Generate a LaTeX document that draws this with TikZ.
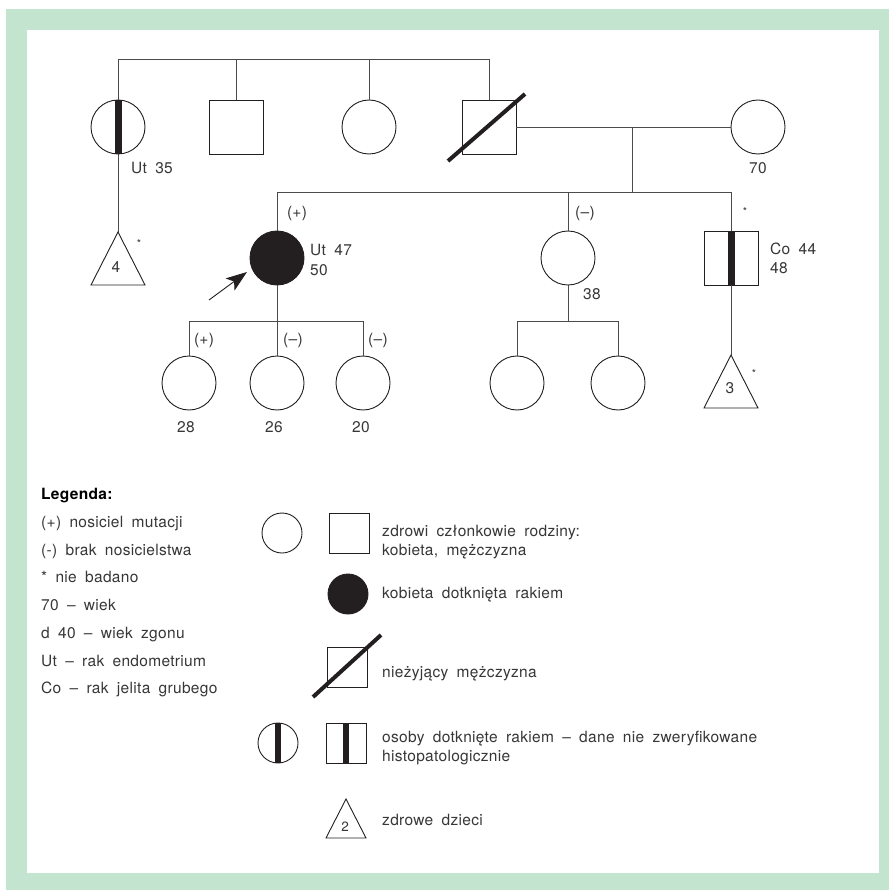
\documentclass[tikz,border=0pt]{standalone}
\usepackage{fontspec}
\setmainfont{TeX Gyre Heros}[LetterSpace=2,WordSpace=1.8]
\usetikzlibrary{arrows.meta,calc}
\definecolor{frameg}{RGB}{195,228,207}
\definecolor{txt}{RGB}{55,55,55}
\definecolor{ln}{RGB}{75,75,75}
\definecolor{dk}{RGB}{35,31,32}
\begin{document}
\begin{tikzpicture}[x=1pt,y=-1pt,
  fem/.style={circle,draw=dk,line width=0.9pt,minimum size=54pt,inner sep=0pt},
  mal/.style={rectangle,draw=dk,line width=0.9pt,minimum size=54pt,inner sep=0pt},
  lfem/.style={fem,minimum size=40pt},
  lmal/.style={mal,minimum size=40pt},
  con/.style={draw=ln,line width=0.9pt},
  tri/.style={draw=dk,line width=0.9pt},
  slash/.style={draw=dk,line width=4pt},
  lbl/.style={text=txt,inner sep=0pt,text height=11pt,text depth=0pt,font=\fontsize{15.5}{18}\selectfont},
  lgd/.style={lbl,anchor=west},
  star/.style={text=txt,inner sep=0pt,font=\fontsize{11}{12}\selectfont}]
% frame
\useasboundingbox (0,0) rectangle (889,890);
\fill[frameg] (6,9) rectangle (889,890);
\fill[white] (27,30) rectangle (879,873);

% generation I
\node[fem] (g1a) at (118,127) {};
\node[mal] (g1b) at (236,127) {};
\node[fem] (g1c) at (369,127) {};
\node[mal] (g1d) at (489,127) {};
\node[fem] (g1e) at (758,127) {};
\fill[dk] ($(g1a.north)+(-3.5,0)$) rectangle ($(g1a.south)+(3.5,0)$);
\draw[slash] ($(g1d.center)+(-41,34)$) -- ($(g1d.center)+(36,-33)$);
\coordinate (top) at (118,59);
\draw[con] (g1a.north) -- (g1a.north |- top) -- (g1d.north |- top) -- (g1d.north);
\draw[con] (g1b.north) -- (g1b.north |- top);
\draw[con] (g1c.north) -- (g1c.north |- top);
\draw[con] (g1d.east) -- (g1e.west);
\coordinate (m1) at (632,127);
\coordinate (s2) at (632,192);
\draw[con] (m1) -- (s2);
\node[lbl,anchor=west] (l35) at (131,168) {Ut 35};
\node[lbl] (l70) at (758,168) {70};

% triangle under g1a
\coordinate (t1) at (118,232);
\draw[con] (g1a.south) -- (t1);
\draw[tri] (t1) -- ++(27,53) -- ++(-54,0) -- cycle;
\node[lbl] (t1n) at (116,267) {4};
\node[star] (t1s) at (139,243) {*};

% generation II
\node[fem,fill=dk] (p) at (277,258) {};
\node[fem] (g2b) at (568,258) {};
\node[mal] (g2c) at (731,258) {};
\fill[dk] ($(g2c.north)+(-3.5,0)$) rectangle ($(g2c.south)+(3.5,0)$);
\draw[con] (p.north) -- (p.north |- s2) -- (g2c.north |- s2) -- (g2c.north);
\draw[con] (g2b.north) -- (g2b.north |- s2);
\node[lbl] (pp) at (297,212) {(+)};
\node[lbl,anchor=west] (pu) at (310,250) {Ut 47};
\node[lbl,anchor=west] (pa) at (310,270) {50};
\node[lbl] (bm) at (585,212) {(–)};
\node[lbl] (ba) at (592,294) {38};
\node[star] (cs) at (745,211) {*};
\node[lbl,anchor=west] (cc) at (770,249) {Co 44};
\node[lbl,anchor=west] (ca) at (770,268) {48};
\coordinate (arrT) at (209,300);
\coordinate (arrH) at (247,272);
\draw[dk,line width=0.9pt,-{Stealth[length=21pt,width=15pt,inset=5pt]}] (arrT) -- (arrH);

% triangle under g2c
\coordinate (t2) at (731,355);
\draw[con] (g2c.south) -- (t2);
\draw[tri] (t2) -- ++(27,53) -- ++(-54,0) -- cycle;
\node[lbl] (t2n) at (730,388) {3};
\node[star] (t2s) at (754,373) {*};

% generation III
\coordinate (s3a) at (277,321);
\node[fem] (g3a) at (189,383) {};
\node[fem] (g3b) at (277,383) {};
\node[fem] (g3c) at (363,383) {};
\draw[con] (p.south) -- (s3a);
\draw[con] (g3a.north) -- (g3a.north |- s3a) -- (g3c.north |- s3a) -- (g3c.north);
\draw[con] (g3b.north) -- (g3b.north |- s3a);
\node[lbl] (g3ap) at (204,339) {(+)};
\node[lbl] (g3bp) at (293,339) {(–)};
\node[lbl] (g3cp) at (378,339) {(–)};
\node[lbl] (g3aa) at (186,427) {28};
\node[lbl] (g3ba) at (274,427) {26};
\node[lbl] (g3ca) at (361,427) {20};

\coordinate (s3b) at (568,321);
\node[fem] (g3d) at (517,383) {};
\node[fem] (g3e) at (618,383) {};
\draw[con] (g2b.south) -- (s3b);
\draw[con] (g3d.north) -- (g3d.north |- s3b) -- (g3e.north |- s3b) -- (g3e.north);

% legend
\node[lgd,text=black,font=\bfseries\fontsize{15.5}{18}\selectfont] (lh) at (41,494) {Legenda:};
\node[lgd] (lr1) at (41,522) {(+) nosiciel mutacji};
\node[lgd] (lr2) at (41,550) {(-) brak nosicielstwa};
\node[lgd] (lr3) at (41,577) {* nie badano};
\node[lgd] (lr4) at (41,605) {70 – wiek};
\node[lgd] (lr5) at (41,633) {d 40 – wiek zgonu};
\node[lgd] (lr6) at (41,661) {Ut – rak endometrium};
\node[lgd] (lr7) at (41,688) {Co – rak jelita grubego};

\node[lfem] (L1) at (282,533) {};
\node[lmal] (L2) at (349,533) {};
\node[lgd] (L2a) at (382,531) {zdrowi członkowie rodziny:};
\node[lgd] (L2b) at (382,550) {kobieta, mężczyzna};
\node[lfem,fill=dk] (L3) at (348,594) {};
\node[lgd] (L3a) at (382,593) {kobieta dotknięta rakiem};
\node[lmal] (L4) at (347,667) {};
\draw[slash] ($(L4.center)+(-34,30)$) -- ($(L4.center)+(34,-32)$);
\node[lgd] (L4a) at (382,672) {nieżyjący mężczyzna};
\node[lfem] (L5) at (278,743) {};
\fill[dk] ($(L5.north)+(-3,0)$) rectangle ($(L5.south)+(3,0)$);
\node[lmal] (L6) at (346,743) {};
\fill[dk] ($(L6.north)+(-3,0)$) rectangle ($(L6.south)+(3,0)$);
\node[lgd] (L6a) at (382,737) {osoby dotknięte rakiem – dane nie zweryfikowane};
\node[lgd] (L6b) at (382,756) {histopatologicznie};
\coordinate (L7) at (346,799);
\draw[tri] (L7) -- ++(20,39) -- ++(-40,0) -- cycle;
\node[lbl,font=\fontsize{13.5}{15}\selectfont] (L7n) at (345,826) {2};
\node[lgd] (L7a) at (382,820) {zdrowe dzieci};
\end{tikzpicture}
\end{document}
